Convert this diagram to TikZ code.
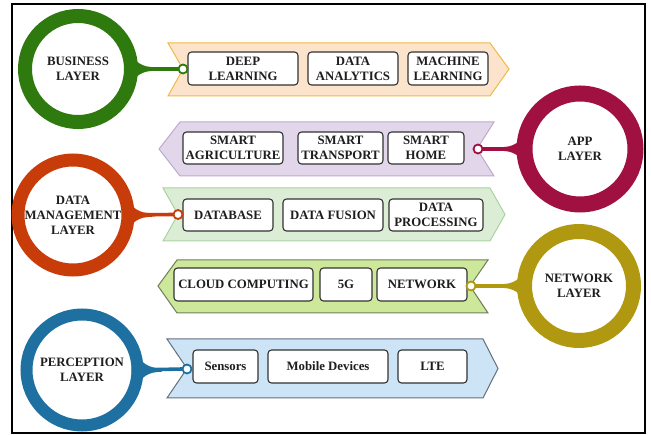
\documentclass[tikz,border=0pt]{standalone}
\usepackage{fontspec}
\setmainfont{Liberation Serif}
\usetikzlibrary{calc}
\definecolor{cbus}{RGB}{47,122,14}
\definecolor{capp}{RGB}{160,16,64}
\definecolor{cdm}{RGB}{200,60,10}
\definecolor{cnet}{RGB}{176,152,16}
\definecolor{cper}{RGB}{30,112,160}
\definecolor{fbus}{RGB}{252,228,204}
\definecolor{dbus}{RGB}{240,185,70}
\definecolor{fapp}{RGB}{226,214,234}
\definecolor{dapp}{RGB}{190,170,205}
\definecolor{fdm}{RGB}{220,237,214}
\definecolor{ddm}{RGB}{170,210,160}
\definecolor{fnet}{RGB}{205,232,155}
\definecolor{dnet}{RGB}{110,125,90}
\definecolor{fper}{RGB}{205,227,246}
\definecolor{dper}{RGB}{100,110,125}
\definecolor{txt}{RGB}{30,30,30}
\definecolor{boxline}{RGB}{50,50,50}
\newcommand\myflareR[2]{%
  \fill[#2] ([shift={(-6,-20)}]#1) .. controls ([shift={(6,-6)}]#1) and ([shift={(10,-2)}]#1) .. ([shift={(24,-1.8)}]#1)
    -- ([shift={(24,1.8)}]#1) .. controls ([shift={(10,2)}]#1) and ([shift={(6,6)}]#1) .. ([shift={(-6,20)}]#1) -- cycle;}
\newcommand\myflareL[2]{%
  \fill[#2] ([shift={(6,-20)}]#1) .. controls ([shift={(-6,-6)}]#1) and ([shift={(-10,-2)}]#1) .. ([shift={(-24,-1.8)}]#1)
    -- ([shift={(-24,1.8)}]#1) .. controls ([shift={(-10,2)}]#1) and ([shift={(-6,6)}]#1) .. ([shift={(6,20)}]#1) -- cycle;}
\begin{document}
\begin{tikzpicture}[x=1pt,y=-1pt,
  ring/.style={circle, draw=#1, inner sep=0, outer sep=0, align=center, text=txt,
    font=\fontsize{12.8}{14.8}\selectfont\bfseries},
  dotn/.style={circle, draw=#1, line width=1.8pt, fill=white, minimum size=9pt, inner sep=0, outer sep=0},
  bx/.style={draw=boxline, line width=1.1pt, rounded corners=3.5pt, fill=white, inner sep=0, outer sep=0,
    align=center, text=txt, font=\fontsize{12.8}{14.8}\selectfont\bfseries},
  banner/.style 2 args={fill=#1, draw=#2, line width=1pt, line join=miter},
  stem/.style={draw=#1, line width=3.6pt}]
\useasboundingbox (0,0) rectangle (651,435);
\draw[line width=2pt] (12,4) rectangle (645,433);

% banners
\draw[banner={fbus}{dbus}] (168,43) -- (490,43) -- (509,69) -- (490,96) -- (168,96) -- (183,69) -- cycle;
\draw[banner={fapp}{dapp}] (180,122) -- (494,122) -- (477,149) -- (494,176) -- (180,176) -- (159,149) -- cycle;
\draw[banner={fdm}{ddm}] (163,188) -- (490,188) -- (505,214.5) -- (490,241) -- (163,241) -- (178,214.5) -- cycle;
\draw[banner={fnet}{dnet}] (177,260) -- (488,260) -- (470,286) -- (488,313) -- (177,313) -- (158,286) -- cycle;
\draw[banner={fper}{dper}] (167,339) -- (483,339) -- (498,368.5) -- (483,398) -- (167,398) -- (187,368.5) -- cycle;

% boxes
\node[bx, minimum width=110pt, minimum height=33pt] (dl) at (243,68.5) {DEEP\\LEARNING};
\node[bx, minimum width=90pt, minimum height=33pt] (da) at (353,68.5) {DATA\\ANALYTICS};
\node[bx, minimum width=80pt, minimum height=33pt] (ml) at (448,68.5) {MACHINE\\LEARNING};
\node[bx, minimum width=100pt, minimum height=32pt] (sa) at (233,148) {SMART\\AGRICULTURE};
\node[bx, minimum width=85pt, minimum height=32pt] (st) at (340.5,148) {SMART\\TRANSPORT};
\node[bx, minimum width=76pt, minimum height=32pt] (sh) at (426,148) {SMART\\HOME};
\node[bx, minimum width=90pt, minimum height=32pt] (db) at (228,215) {DATABASE};
\node[bx, minimum width=100pt, minimum height=32pt] (df) at (333,215) {DATA FUSION};
\node[bx, minimum width=94pt, minimum height=32pt] (dp) at (436,215) {DATA\\PROCESSING};
\node[bx, minimum width=139pt, minimum height=33pt] (cc) at (243.5,284.5) {CLOUD COMPUTING};
\node[bx, minimum width=52pt, minimum height=33pt] (fg) at (346,284.5) {5G};
\node[bx, minimum width=90pt, minimum height=33pt] (nw) at (422,284.5) {NETWORK};
\node[bx, minimum width=65pt, minimum height=33pt] (se) at (225.5,366.5) {Sensors};
\node[bx, minimum width=120pt, minimum height=33pt] (md) at (328,366.5) {Mobile Devices};
\node[bx, minimum width=69pt, minimum height=33pt] (lte) at (432.5,366.5) {LTE};

% layer rings
\node[ring=cbus, line width=14pt, minimum size=106pt] (bus) at (78,69) {BUSINESS\\LAYER};
\node[ring=capp, line width=16pt, minimum size=111pt] (app) at (580,149) {APP\\LAYER};
\node[ring=cdm, line width=13pt, minimum size=110pt] (dm) at (73,215) {DATA\\MANAGEMENT\\LAYER};
\node[ring=cnet, line width=15pt, minimum size=109pt] (net) at (579,286) {NETWORK\\LAYER};
\node[ring=cper, line width=12pt, minimum size=111pt] (per) at (82,370) {PERCEPTION\\LAYER};

% dots
\node[dotn=cbus] (busd) at (183,69) {};
\node[dotn=capp] (appd) at (478,149) {};
\node[dotn=cdm] (dmd) at (178,214.5) {};
\node[dotn=cnet] (netd) at (471,286) {};
\node[dotn=cper] (perd) at (187,369) {};

% connectors
\draw[stem=cbus] (bus.east) -- (busd.west);
\draw[stem=capp] (app.west) -- (appd.east);
\draw[stem=cdm] (dm.east) -- (dmd.west);
\draw[stem=cnet] (net.west) -- (netd.east);
\draw[stem=cper] (per.east) -- (perd.west);
\myflareR{bus.east}{cbus}
\myflareL{app.west}{capp}
\myflareR{dm.east}{cdm}
\myflareL{net.west}{cnet}
\myflareR{per.east}{cper}
\end{tikzpicture}
\end{document}
